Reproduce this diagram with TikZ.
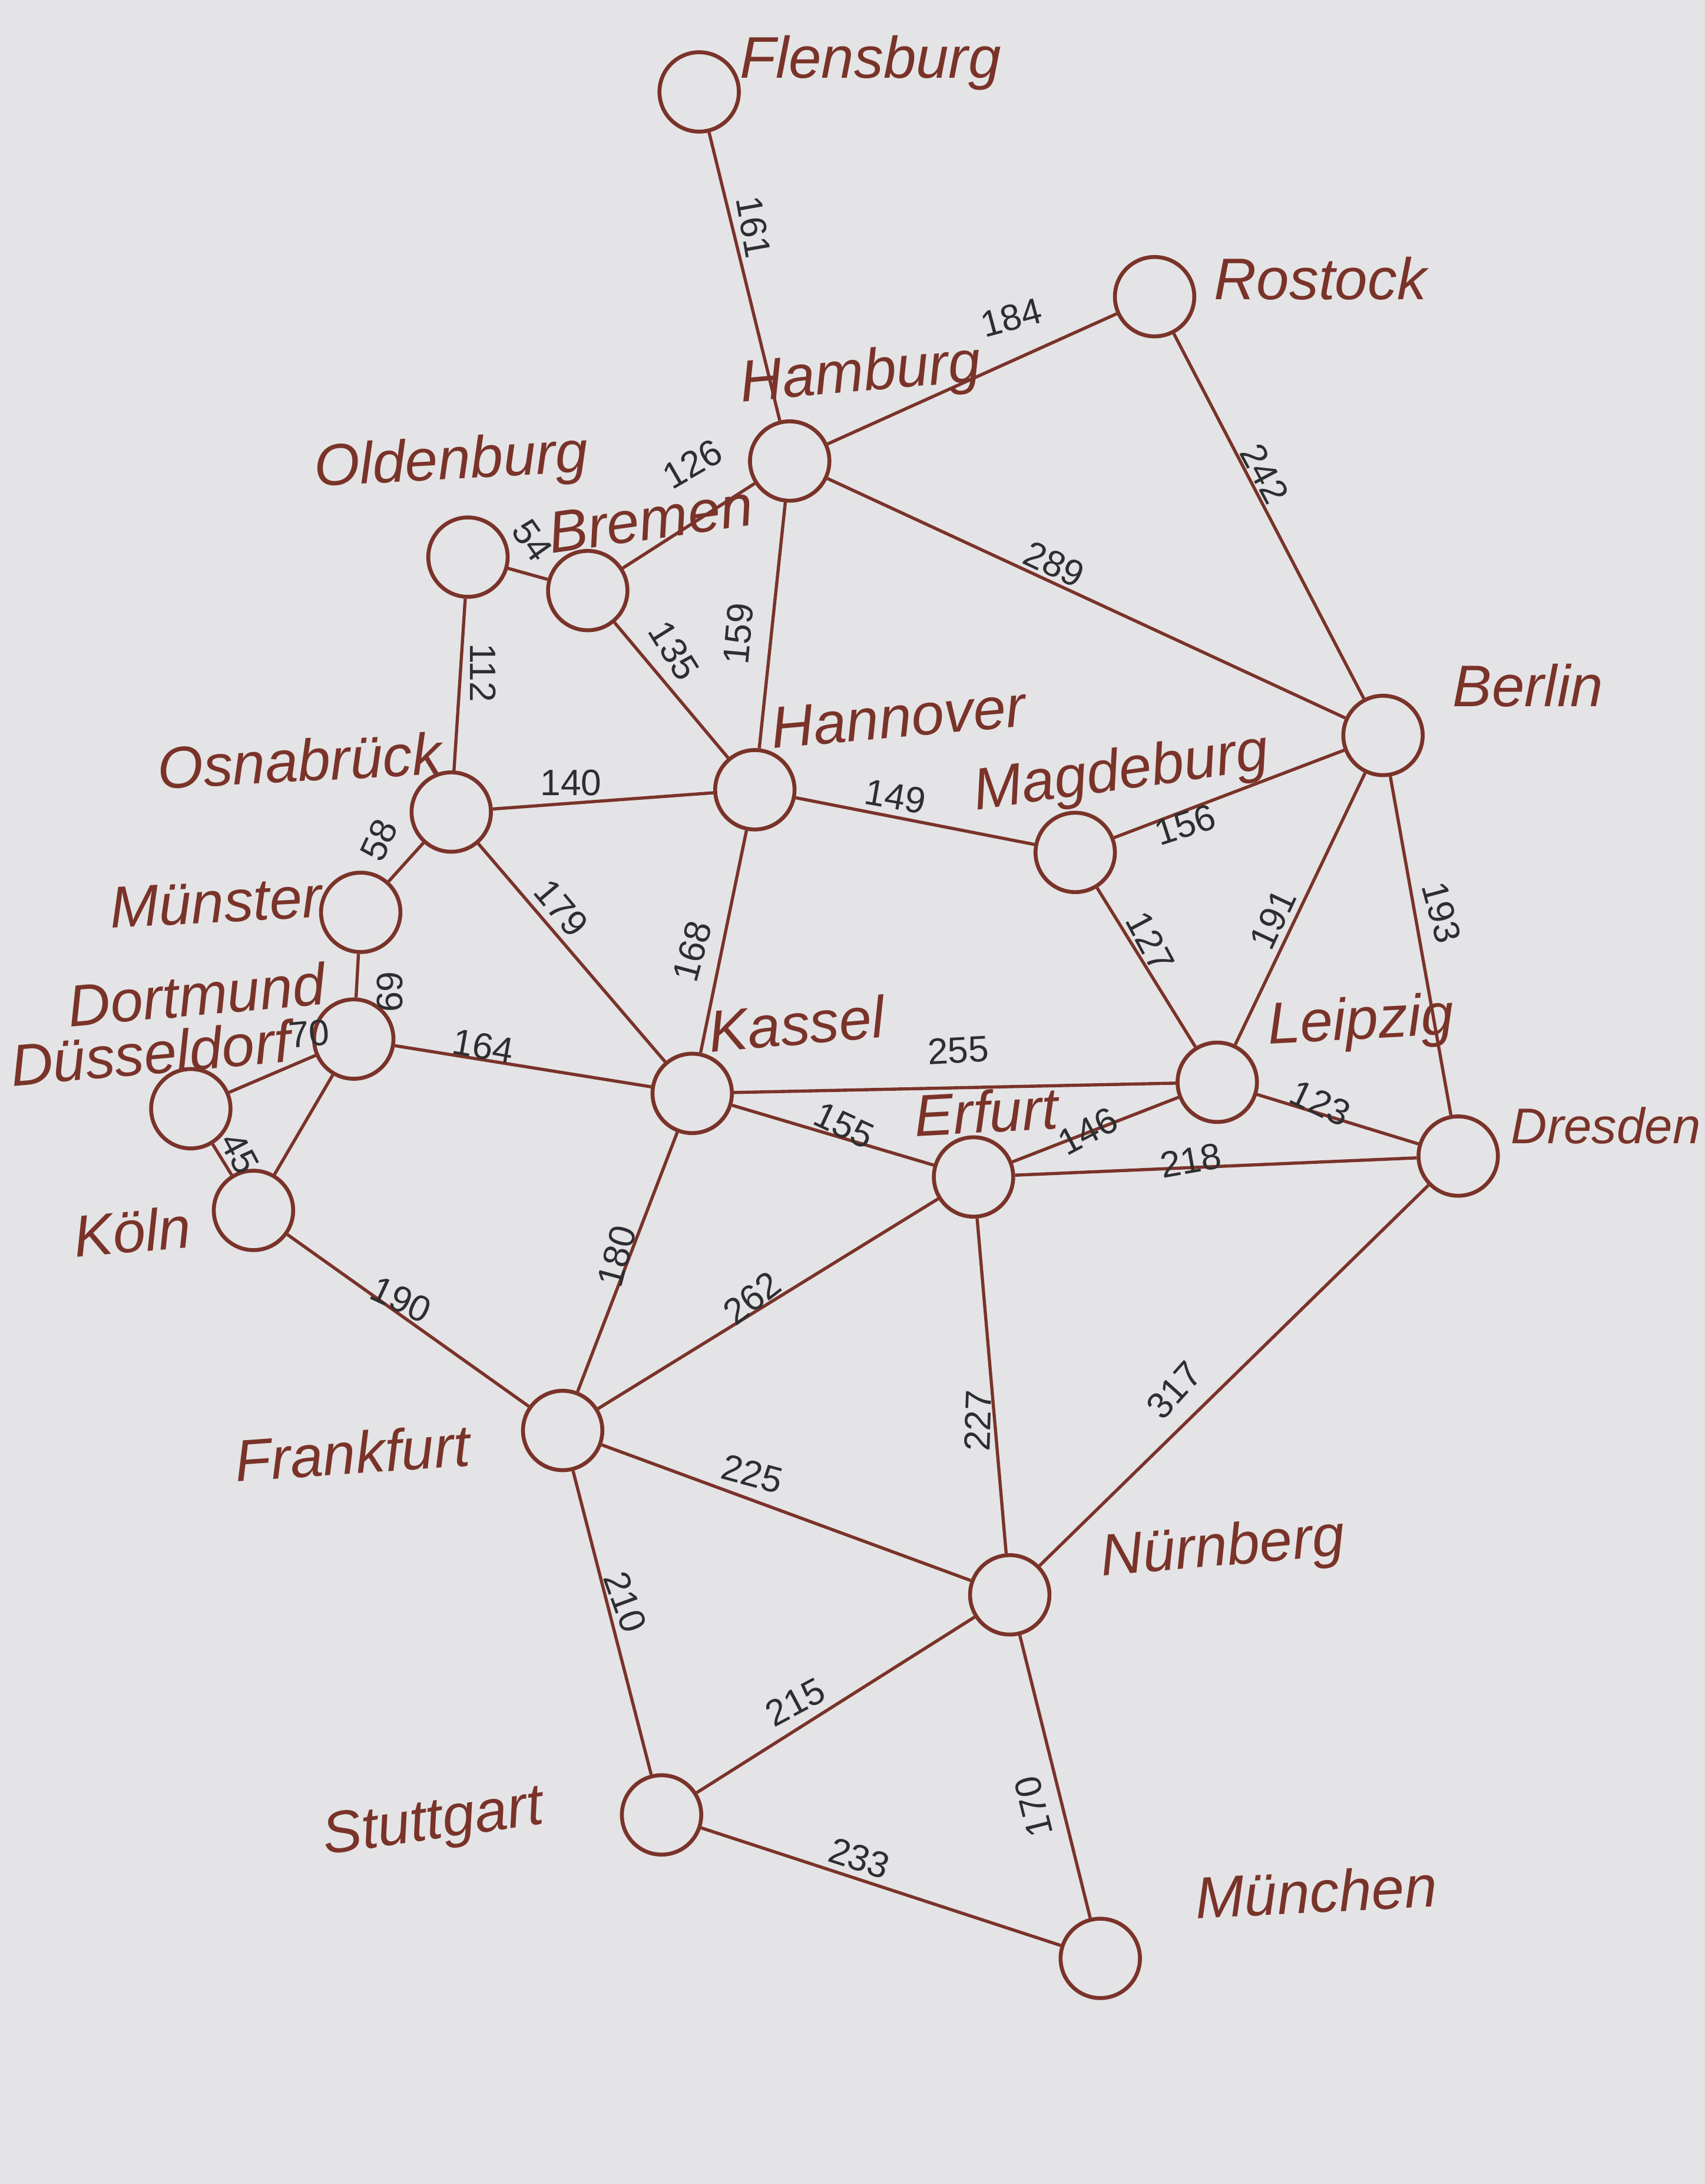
\documentclass[tikz,border=0pt]{standalone}
\usepackage{fontspec}
\setmainfont{Liberation Sans}
\definecolor{paper}{HTML}{E4E4E6}
\definecolor{ink}{HTML}{7A3329}
\definecolor{num}{HTML}{2E2E30}
\begin{document}
\begin{tikzpicture}[x=0.02cm,y=-0.02cm,
  city/.style={circle,draw=ink,line width=1.6pt,minimum size=1.14cm,inner sep=0pt},
  road/.style={draw=ink,line width=1.3pt},
  cname/.style={text=ink,font=\fontsize{24}{24}\selectfont\itshape,inner sep=0pt},
  dist/.style={text=num,font=\fontsize{15}{15}\selectfont,inner sep=0pt}]
\fill[paper] (0,0) rectangle (1224,1568);
\useasboundingbox (0,0) rectangle (1224,1568);
\clip (0,0) rectangle (1224,1568);

% cities
\node[city] (fl) at (502,66) {};
\node[city] (ro) at (829,213) {};
\node[city] (hh) at (567,331) {};
\node[city] (ol) at (336,400) {};
\node[city] (hb) at (422,424) {};
\node[city] (be) at (993,528) {};
\node[city] (os) at (324,583) {};
\node[city] (ha) at (542,567) {};
\node[city] (md) at (772,612) {};
\node[city] (ms) at (259,655) {};
\node[city] (do) at (254,746) {};
\node[city] (du) at (137,796) {};
\node[city] (kn) at (182,869) {};
\node[city] (ks) at (497,785) {};
\node[city] (le) at (874,777) {};
\node[city] (ef) at (699,845) {};
\node[city] (dd) at (1047,830) {};
\node[city] (ff) at (404,1027) {};
\node[city] (nu) at (725,1145) {};
\node[city] (st) at (475,1303) {};
\node[city] (mu) at (790,1406) {};

% names
\node[cname] (nfl) at (625,45) {Flensburg};
\node[cname] (nro) at (948,200) {Rostock};
\node[cname,rotate=5] (nhh) at (618,270) {Hamburg};
\node[cname,rotate=3] (nol) at (324,333) {Oldenburg};
\node[cname,rotate=8] (nhb) at (467,373) {Bremen};
\node[cname] (nbe) at (1097,492) {Berlin};
\node[cname,rotate=3] (nos) at (215,546) {Osnabrück};
\node[cname,rotate=5] (nha) at (645,515) {Hannover};
\node[cname,rotate=8] (nmd) at (805,556) {Magdeburg};
\node[cname,rotate=3] (nms) at (155,648) {Münster};
\node[cname,rotate=5] (ndo) at (141,714) {Dortmund};
\node[cname,rotate=5] (ndu) at (108,756) {Düsseldorf};
\node[cname,rotate=5] (nkn) at (95,884) {Köln};
\node[cname,rotate=5] (nks) at (572,735) {Kassel};
\node[cname,rotate=3] (nle) at (977,735) {Leipzig};
\node[cname,rotate=3] (nef) at (708,798) {Erfurt};
\node[cname,font=\fontsize{20.5}{20.5}\selectfont\itshape] (ndd) at (1153,808) {Dresden};
\node[cname,rotate=4] (nff) at (253,1043) {Frankfurt};
\node[cname,rotate=5] (nnu) at (878,1113) {Nürnberg};
\node[cname,rotate=8] (nst) at (311,1310) {Stuttgart};
\node[cname,rotate=3] (nmu) at (945,1358) {München};

% roads
\draw[road] (fl) -- (hh);
\draw[road] (hh) -- (ro);
\draw[road] (ro) -- (be);
\draw[road] (hh) -- (hb);
\draw[road] (hh) -- (be);
\draw[road] (hh) -- (ha);
\draw[road] (ol) -- (hb);
\draw[road] (ol) -- (os);
\draw[road] (hb) -- (ha);
\draw[road] (os) -- (ha);
\draw[road] (ha) -- (md);
\draw[road] (md) -- (be);
\draw[road] (os) -- (ms);
\draw[road] (os) -- (ks);
\draw[road] (ha) -- (ks);
\draw[road] (md) -- (le);
\draw[road] (le) -- (be);
\draw[road] (be) -- (dd);
\draw[road] (ms) -- (do);
\draw[road] (do) -- (du);
\draw[road] (do) -- (ks);
\draw[road] (do) -- (kn);
\draw[road] (du) -- (kn);
\draw[road] (ks) -- (le);
\draw[road] (ks) -- (ef);
\draw[road] (ef) -- (le);
\draw[road] (le) -- (dd);
\draw[road] (ef) -- (dd);
\draw[road] (ks) -- (ff);
\draw[road] (ff) -- (ef);
\draw[road] (kn) -- (ff);
\draw[road] (ef) -- (nu);
\draw[road] (nu) -- (dd);
\draw[road] (ff) -- (nu);
\draw[road] (ff) -- (st);
\draw[road] (st) -- (nu);
\draw[road] (nu) -- (mu);
\draw[road] (st) -- (mu);

% distances
\node[dist,rotate=-80] (d161) at (541,163) {161};
\node[dist,rotate=15] (d184) at (726,228) {184};
\node[dist,rotate=-62] (d242) at (908,340) {242};
\node[dist,rotate=30] (d126) at (497,333) {126};
\node[dist,rotate=-25] (d289) at (757,405) {289};
\node[dist,rotate=-55] (d54) at (382,388) {54};
\node[dist,rotate=85] (d159) at (530,455) {159};
\node[dist,rotate=-90] (d112) at (347,483) {112};
\node[dist,rotate=-58] (d135) at (484,467) {135};
\node[dist] (d140) at (410,562) {140};
\node[dist,rotate=-10] (d149) at (643,572) {149};
\node[dist,rotate=18] (d156) at (851,592) {156};
\node[dist,rotate=65] (d58) at (272,603) {58};
\node[dist,rotate=-50] (d179) at (403,652) {179};
\node[dist,rotate=75] (d168) at (497,683) {168};
\node[dist,rotate=-62] (d127) at (826,676) {127};
\node[dist,rotate=65] (d191) at (914,660) {191};
\node[dist,rotate=-75] (d193) at (1035,655) {193};
\node[dist,rotate=-90] (d69) at (280,712) {69};
\node[dist,rotate=5] (d70) at (222,742) {70};
\node[dist,rotate=-10] (d164) at (347,751) {164};
\node[dist,rotate=-62] (d45) at (172,828) {45};
\node[dist,rotate=3] (d255) at (688,754) {255};
\node[dist,rotate=-25] (d155) at (606,808) {155};
\node[dist,rotate=28] (d146) at (781,812) {146};
\node[dist,rotate=-25] (d123) at (948,792) {123};
\node[dist,rotate=10] (d218) at (855,833) {218};
\node[dist,rotate=75] (d180) at (443,902) {180};
\node[dist,rotate=38] (d262) at (540,932) {262};
\node[dist,rotate=-25] (d190) at (288,933) {190};
\node[dist,rotate=88] (d227) at (702,1020) {227};
\node[dist,rotate=48] (d317) at (843,998) {317};
\node[dist,rotate=-15] (d225) at (540,1058) {225};
\node[dist,rotate=-70] (d210) at (449,1150) {210};
\node[dist,rotate=28] (d215) at (571,1222) {215};
\node[dist,rotate=104] (d170) at (742,1297) {170};
\node[dist,rotate=-18] (d233) at (617,1334) {233};
\end{tikzpicture}
\end{document}
